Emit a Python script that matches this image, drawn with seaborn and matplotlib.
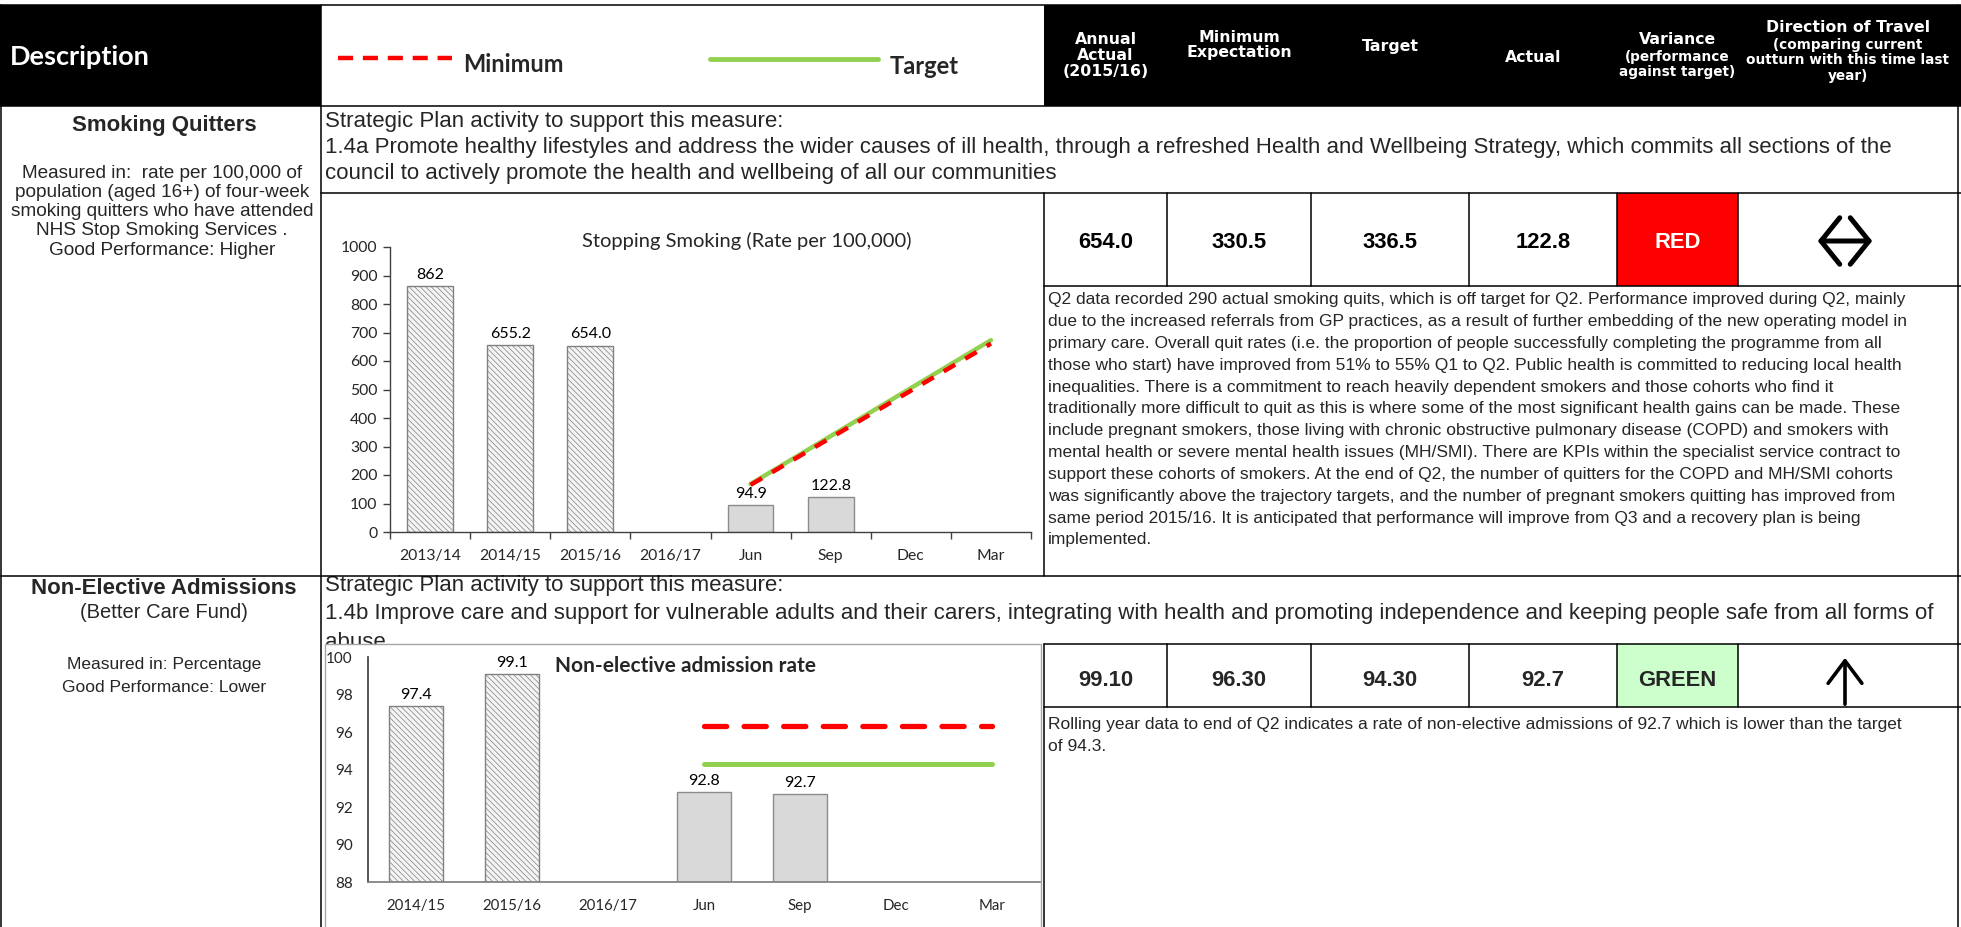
import matplotlib
matplotlib.use("Agg")
import matplotlib.pyplot as plt
import seaborn as sns
from matplotlib.lines import Line2D
from matplotlib.patches import Rectangle, FancyArrowPatch

# ---------------- data ----------------
smk_cats = ["2013/14", "2014/15", "2015/16", "2016/17", "Jun", "Sep", "Dec", "Mar"]
smk_bar_cats = ["2013/14", "2014/15", "2015/16", "Jun", "Sep"]
smk_bar_vals = [862.0, 655.2, 654.0, 94.9, 122.8]
smk_bar_labels = ["862", "655.2", "654.0", "94.9", "122.8"]
smk_annual = ["2013/14", "2014/15", "2015/16"]
smk_line_cats = ["Jun", "Sep", "Dec", "Mar"]
smk_target = [168.3, 336.5, 504.8, 673.0]
smk_minimum = [165.3, 330.5, 495.8, 661.0]
smk_yticks = [0, 100, 200, 300, 400, 500, 600, 700, 800, 900, 1000]

nea_cats = ["2014/15", "2015/16", "2016/17", "Jun", "Sep", "Dec", "Mar"]
nea_bar_cats = ["2014/15", "2015/16", "Jun", "Sep"]
nea_bar_vals = [97.4, 99.1, 92.8, 92.7]
nea_bar_labels = ["97.4", "99.1", "92.8", "92.7"]
nea_annual = ["2014/15", "2015/16"]
nea_line_cats = ["Jun", "Sep", "Dec", "Mar"]
nea_target = [94.3, 94.3, 94.3, 94.3]
nea_minimum = [96.3, 96.3, 96.3, 96.3]
nea_yticks = [88, 90, 92, 94, 96, 98, 100]

row1_values = ["654.0", "330.5", "336.5", "122.8", "RED"]
row2_values = ["99.10", "96.30", "94.30", "92.7", "GREEN"]

row1_text = [
    "Q2 data recorded 290 actual smoking quits, which is off target for Q2. Performance improved during Q2, mainly",
    "due to the increased referrals from GP practices, as a result of further embedding of the new operating model in",
    "primary care. Overall quit rates (i.e. the proportion of people successfully completing the programme from all",
    "those who start) have improved from 51% to 55% Q1 to Q2. Public health is committed to reducing local health",
    "inequalities. There is a commitment to reach heavily dependent smokers and those cohorts who find it",
    "traditionally more difficult to quit as this is where some of the most significant health gains can be made. These",
    "include pregnant smokers, those living with chronic obstructive pulmonary disease (COPD) and smokers with",
    "mental health or severe mental health issues (MH/SMI). There are KPIs within the specialist service contract to",
    "support these cohorts of smokers. At the end of Q2, the number of quitters for the COPD and MH/SMI cohorts",
    "was significantly above the trajectory targets, and the number of pregnant smokers quitting has improved from",
    "same period 2015/16. It is anticipated that performance will improve from Q3 and a recovery plan is being",
    "implemented.",
]
row2_text = [
    "Rolling year data to end of Q2 indicates a rate of non-elective admissions of 92.7 which is lower than the target",
    "of 94.3.",
]
row1_plan = [
    "Strategic Plan activity to support this measure:",
    "1.4a Promote healthy lifestyles and address the wider causes of ill health, through a refreshed Health and Wellbeing Strategy, which commits all sections of the",
    "council to actively promote the health and wellbeing of all our communities",
]
row2_plan = [
    "Strategic Plan activity to support this measure:",
    "1.4b Improve care and support for vulnerable adults and their carers, integrating with health and promoting independence and keeping people safe from all forms of",
    "abuse",
]
row1_desc = ["Measured in:  rate per 100,000 of", "population (aged 16+) of four-week",
             "smoking quitters who have attended", "NHS Stop Smoking Services .",
             "Good Performance: Higher"]
row2_desc = ["Measured in: Percentage", "Good Performance: Lower"]

# ---------------- setup ----------------
sns.set_theme(style="white")
plt.rcParams["font.family"] = ["Liberation Sans", "DejaVu Sans"]
plt.rcParams["hatch.linewidth"] = 0.5

W, H = 1961, 927
fig = plt.figure(figsize=(W / 100, H / 100), dpi=100)
fig.patch.set_facecolor("white")


def fx(x):
    return x / W


def fy(y):
    return 1 - y / H


def hline(y, x0, x1, color="black", lw=1.1, z=10):
    fig.add_artist(Line2D([fx(x0), fx(x1)], [fy(y), fy(y)], color=color, lw=lw, zorder=z))


def vline(x, y0, y1, color="black", lw=1.1, z=10):
    fig.add_artist(Line2D([fx(x), fx(x)], [fy(y0), fy(y1)], color=color, lw=lw, zorder=z))


def rect(x0, y0, x1, y1, fc, ec="none", lw=1.0, z=1):
    fig.add_artist(Rectangle((fx(x0), fy(y1)), fx(x1) - fx(x0), fy(y0) - fy(y1),
                             transform=fig.transFigure, facecolor=fc, edgecolor=ec,
                             lw=lw, zorder=z))


def txt(x, y, s, **kw):
    kw.setdefault("va", "center")
    kw.setdefault("zorder", 5)
    return fig.text(fx(x), fy(y), s, **kw)


cols = [1044, 1167, 1311, 1469, 1617, 1738, 1958]
col_centers = [(a + b) / 2 for a, b in zip(cols[:-1], cols[1:])]

# ---------------- header ----------------
rect(0, 5, 321, 106, "black", z=1)
rect(1044, 5, 1961, 106, "black", z=1)
hline(5, 0, 1961)
hline(106, 0, 1961)
txt(10, 57, "Description", color="white", fontsize=19.5, fontweight="bold", family="Lato")

fig.add_artist(Line2D([fx(338), fx(452)], [fy(58), fy(58)], color="#FF0000", lw=3.2,
                      dashes=(3.4, 2.2), zorder=5))
txt(463, 65, "Minimum", fontsize=17, fontweight="bold", family="Lato")
fig.add_artist(Line2D([fx(710), fx(878)], [fy(59), fy(59)], color="#92D050", lw=3.5,
                      zorder=5))
txt(890, 66, "Target", fontsize=17, fontweight="bold", family="Lato")

hk = dict(color="white", fontweight="bold", family="DejaVu Sans", ha="center")
big, small = 11.3, 9.8
for yy, s in zip([39, 55, 71], ["Annual", "Actual", "(2015/16)"]):
    txt(col_centers[0], yy, s, fontsize=big, **hk)
for yy, s in zip([37, 53], ["Minimum", "Expectation"]):
    txt(col_centers[1], yy, s, fontsize=big, **hk)
txt(col_centers[2], 46, "Target", fontsize=big, **hk)
txt(col_centers[3] - 10, 57, "Actual", fontsize=big, **hk)
txt(col_centers[4], 40, "Variance", fontsize=big, **hk)
for yy, s in zip([57, 72], ["(performance", "against target)"]):
    txt(col_centers[4], yy, s, fontsize=small, **hk)
txt(col_centers[5], 28, "Direction of Travel", fontsize=big, **hk)
for yy, s in zip([45, 60, 76], ["(comparing current", "outturn with this time last", "year)"]):
    txt(col_centers[5], yy, s, fontsize=small, **hk)

# ---------------- table grid ----------------
vline(1, 5, 927)
vline(321, 5, 927)
vline(1958, 5, 927)
hline(193, 321, 1961)
hline(286, 1044, 1961)
hline(576, 0, 1961)
hline(644, 1044, 1961)
hline(707, 1044, 1961)
vline(1044, 193, 576)
vline(1044, 644, 927)
for c in cols[1:-1]:
    vline(c, 193, 286)
    vline(c, 644, 707)

rect(1617, 193, 1738, 286, "#FF0000", z=2)
rect(1617, 644, 1738, 707, "#CCFFCC", z=2)

# ---------------- row 1 ----------------
txt(164, 125, "Smoking Quitters", fontsize=16, fontweight="bold", ha="center")
for i, s in enumerate(row1_desc):
    txt(162, 173 + i * 19.3, s, fontsize=13.7, ha="center")
for i, s in enumerate(row1_plan):
    txt(325, 121 + i * 26.5, s, fontsize=16)
for v, cx in zip(row1_values, col_centers[:5]):
    txt(cx, 242, v, fontsize=15.8, fontweight="bold", ha="center",
        color="white" if v == "RED" else "black")
for i, s in enumerate(row1_text):
    txt(1048, 300 + i * 21.8, s, fontsize=12.5)
fig.add_artist(FancyArrowPatch((fx(1815), fy(241)), (fx(1875), fy(241)),
                               transform=fig.transFigure,
                               arrowstyle="<->,head_length=0.5,head_width=0.62",
                               mutation_scale=27, lw=3.6, color="black", zorder=6))

# ---------------- row 2 ----------------
txt(164, 588, "Non-Elective Admissions", fontsize=16, fontweight="bold", ha="center")
txt(164, 612, "(Better Care Fund)", fontsize=14.5, ha="center")
for i, s in enumerate(row2_desc):
    txt(164, 664 + i * 23, s, fontsize=12.5, ha="center")
for i, s in enumerate(row2_plan):
    txt(325, 586 + i * 28, s, fontsize=16, zorder=1)
for v, cx in zip(row2_values, col_centers[:5]):
    txt(cx, 681, v, fontsize=15.8, fontweight="bold", ha="center")
for i, s in enumerate(row2_text):
    txt(1048, 725 + i * 21.5, s, fontsize=12.5)
fig.add_artist(FancyArrowPatch((fx(1845), fy(707)), (fx(1845), fy(655)),
                               transform=fig.transFigure,
                               arrowstyle="->,head_length=0.6,head_width=0.45",
                               mutation_scale=27, lw=2.6, color="black", zorder=6))

# chart 2 box (covers the clipped 'abuse' line)
rect(325, 644, 1041, 940, "white", ec="#A6A6A6", lw=1.0, z=2)

CH = "Lato"


def style_bars(ax, cats, annual):
    for p in ax.patches:
        idx = int(round(p.get_x() + p.get_width() / 2))
        if cats[idx] in annual:
            p.set_facecolor("#F4F4F4")
            p.set_edgecolor("#808080")
            p.set_hatch("\\" * 6)
        else:
            p.set_facecolor("#D9D9D9")
            p.set_edgecolor("#8C8C8C")
        p.set_linewidth(1.0)


def label_bars(ax, labels, size):
    pats = sorted(ax.patches, key=lambda p: p.get_x())
    for p, lab in zip(pats, labels):
        ax.annotate(lab, (p.get_x() + p.get_width() / 2, p.get_height()),
                    xytext=(0, 3), textcoords="offset points", ha="center", va="bottom",
                    fontsize=size, family=CH, color="black", zorder=4)


# ---------------- chart 1 ----------------
ax1 = fig.add_axes([fx(390), fy(532), fx(1031) - fx(390), fy(247) - fy(532)])
ax1.set_facecolor("none")
sns.barplot(x=smk_bar_cats, y=smk_bar_vals, order=smk_cats, width=0.57, ax=ax1,
            color="#D9D9D9", saturation=1)
style_bars(ax1, smk_cats, smk_annual)
sns.lineplot(x=[smk_cats.index(c) for c in smk_line_cats], y=smk_target, ax=ax1,
             color="#92D050", lw=3.2)
sns.lineplot(x=[smk_cats.index(c) for c in smk_line_cats], y=smk_minimum, ax=ax1,
             color="#FF0000", lw=3.2)
ax1.lines[-1].set_dashes([3.0, 2.6])
label_bars(ax1, smk_bar_labels, 11.5)
ax1.set_xlim(-0.5, len(smk_cats) - 0.5)
ax1.set_ylim(0, 1000)
ax1.set_yticks(smk_yticks)
ax1.set_xticks(range(len(smk_cats)))
ax1.set_xticklabels(smk_cats)
ax1.set_xticks([i - 0.5 for i in range(len(smk_cats) + 1)], minor=True)
ax1.tick_params(axis="x", which="major", length=0, pad=12.5, labelsize=11.3)
ax1.tick_params(axis="x", which="minor", length=5, width=1, color="#404040", direction="out",
                bottom=True)
ax1.tick_params(axis="y", length=5, width=1, color="#404040", direction="out", left=True,
                pad=4, labelsize=11.3)
for t in ax1.get_xticklabels() + ax1.get_yticklabels():
    t.set_family(CH)
for s in ["top", "right"]:
    ax1.spines[s].set_visible(False)
for s in ["left", "bottom"]:
    ax1.spines[s].set_color("#404040")
    ax1.spines[s].set_linewidth(1.0)
ax1.set_xlabel("")
ax1.set_ylabel("")
txt(747, 241, "Stopping Smoking (Rate per 100,000)", fontsize=14.5, family=CH, ha="center")

# ---------------- chart 2 ----------------
ax2 = fig.add_axes([fx(368), fy(882), fx(1040) - fx(368), fy(657) - fy(882)])
ax2.set_zorder(3)
ax2.set_facecolor("none")
sns.barplot(x=nea_bar_cats, y=nea_bar_vals, order=nea_cats, width=0.57, ax=ax2,
            color="#D9D9D9", saturation=1)
style_bars(ax2, nea_cats, nea_annual)
sns.lineplot(x=[nea_cats.index(c) for c in nea_line_cats], y=nea_target, ax=ax2,
             color="#92D050", lw=3.6)
sns.lineplot(x=[nea_cats.index(c) for c in nea_line_cats], y=nea_minimum, ax=ax2,
             color="#FF0000", lw=3.8)
ax2.lines[-1].set_dashes([4.2, 3.3])
ax2.lines[-1].set_dash_capstyle("round")
ax2.lines[-2].set_solid_capstyle("round")
label_bars(ax2, nea_bar_labels, 11.5)
ax2.set_xlim(-0.5, len(nea_cats) - 0.5)
ax2.set_ylim(88, 100)
ax2.set_yticks(nea_yticks)
ax2.set_xticks(range(len(nea_cats)))
ax2.set_xticklabels(nea_cats)
ax2.tick_params(axis="x", length=0, pad=12, labelsize=10.8)
ax2.tick_params(axis="y", length=0, pad=11, labelsize=11)
for t in ax2.get_xticklabels() + ax2.get_yticklabels():
    t.set_family(CH)
for s in ["top", "right"]:
    ax2.spines[s].set_visible(False)
ax2.spines["left"].set_color("#404040")
ax2.spines["bottom"].set_color("#808080")
ax2.set_xlabel("")
ax2.set_ylabel("")
txt(555, 666, "Non-elective admission rate", fontsize=15, fontweight="bold",
    family=CH, zorder=6)

fig.savefig("out.png", dpi=100, facecolor="white")
